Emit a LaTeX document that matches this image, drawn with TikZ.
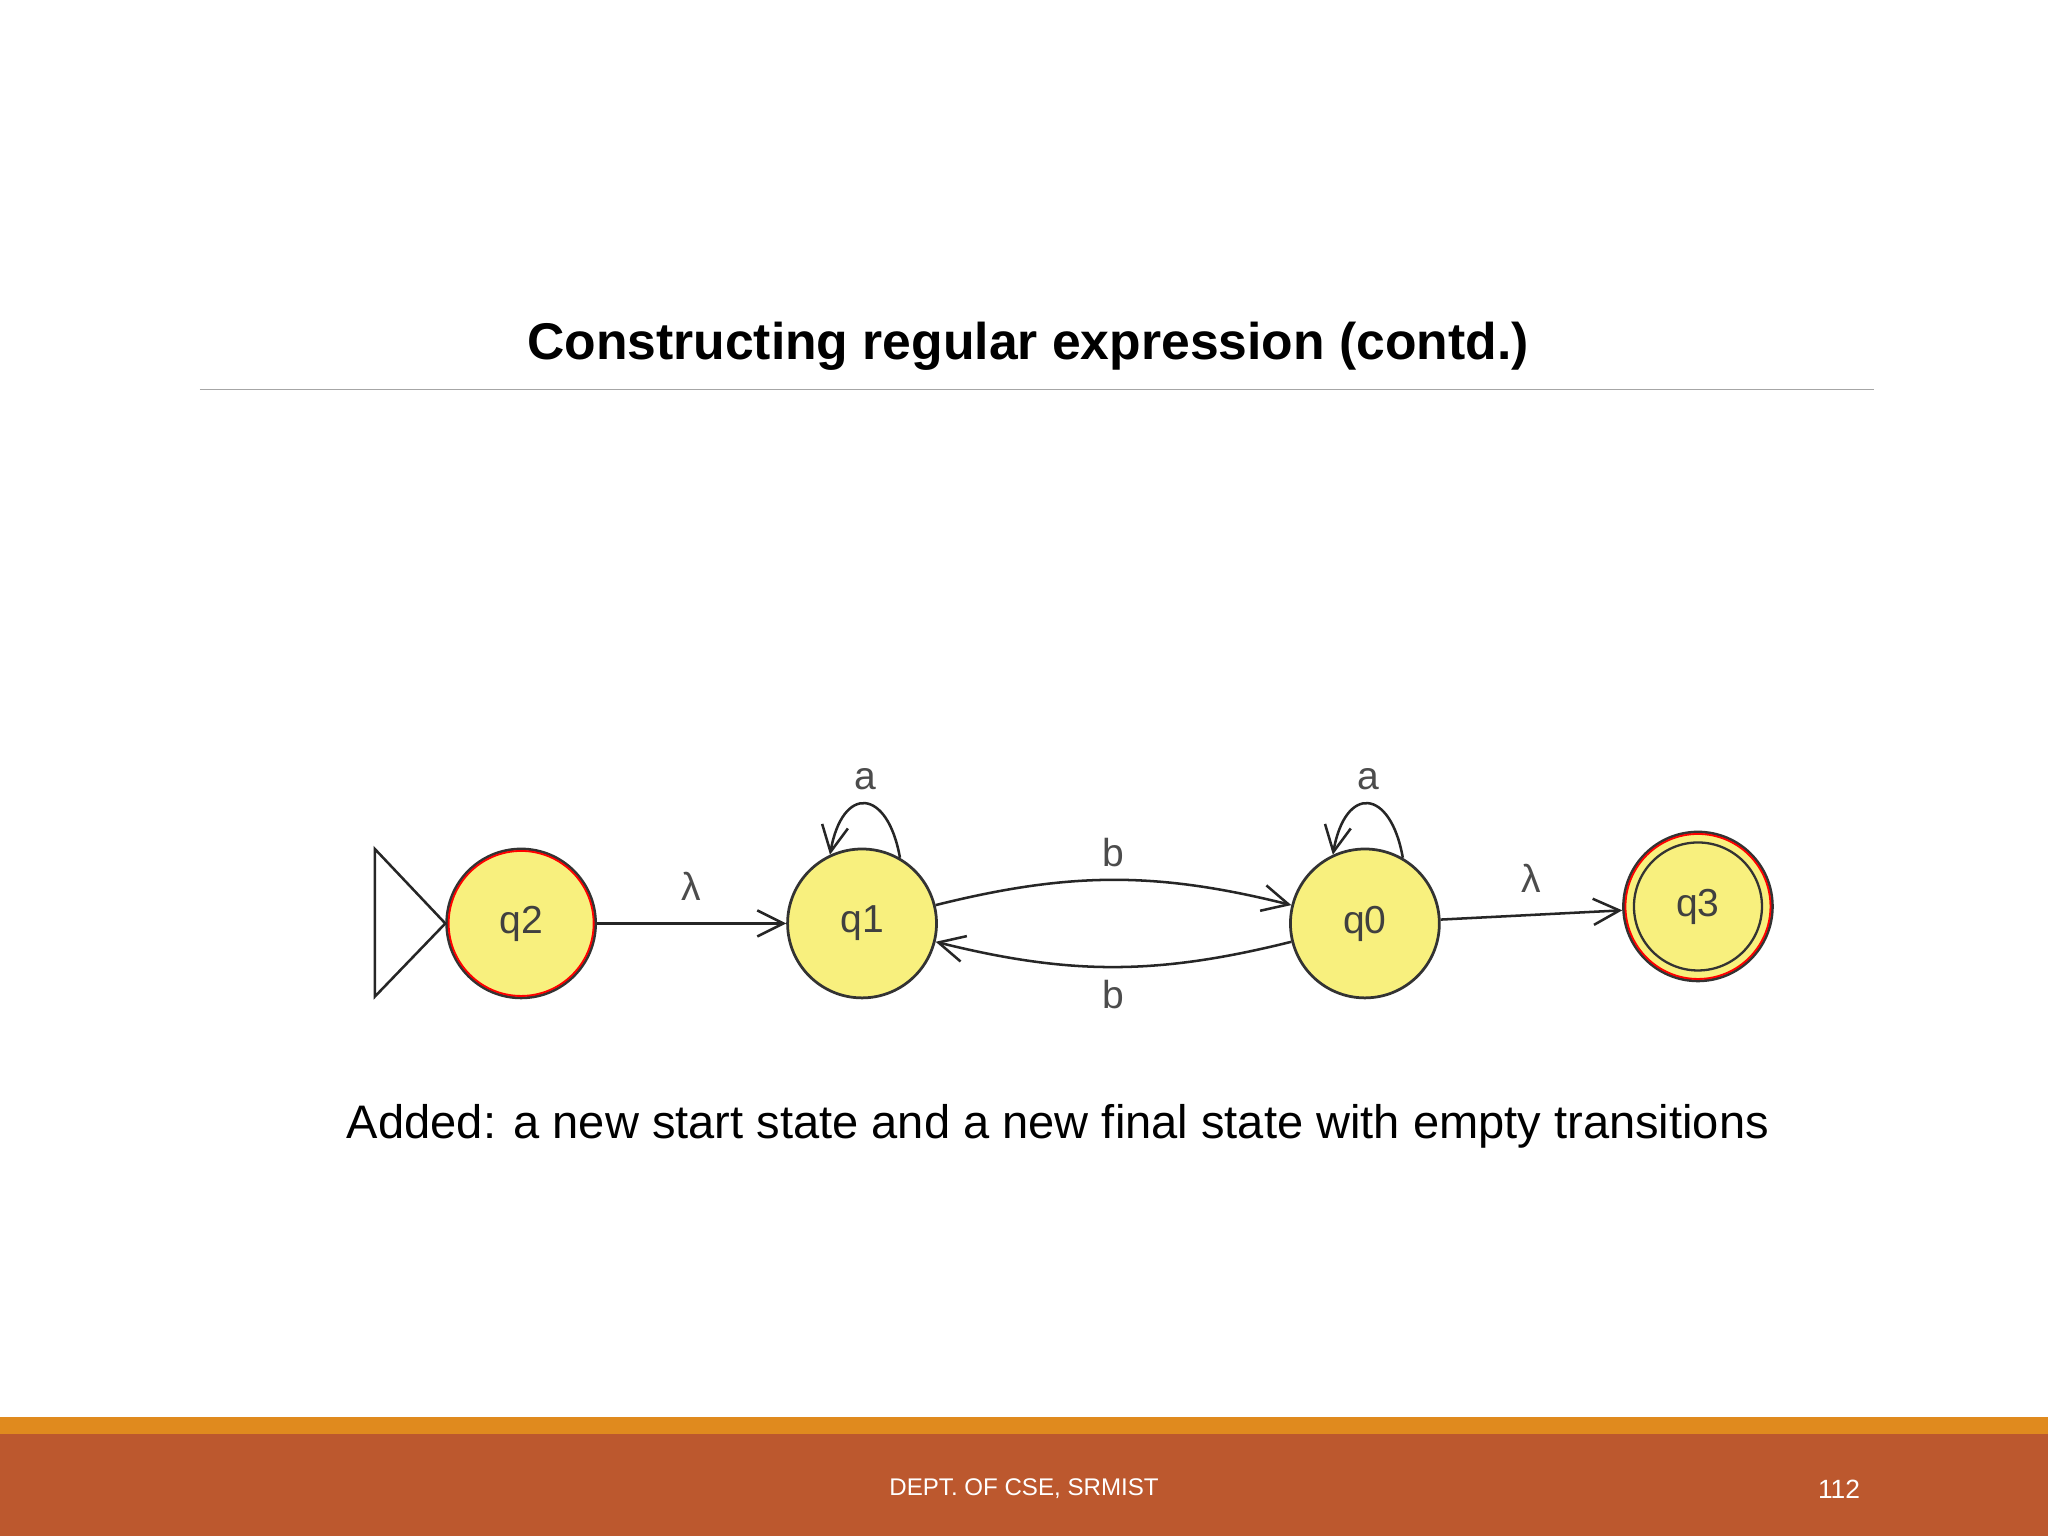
\documentclass[tikz,border=0pt]{standalone}
\usepackage{fontspec}
\setmainfont{Liberation Sans}
\usetikzlibrary{arrows.meta}
\definecolor{stfill}{HTML}{F8F07E}
\definecolor{band}{HTML}{BC582E}
\definecolor{stripe}{HTML}{E08A1E}
\begin{document}
\begin{tikzpicture}[x=0.2mm,y=-0.2mm,
  st/.style={circle,draw=black!80,line width=1.2pt,fill=stfill,minimum size=22.8mm,inner sep=0pt,font=\fontsize{17}{20}\selectfont,text=black!75},
  tr/.style={draw=black!85,line width=1.1pt,-{Straight Barb[length=4mm,width=4mm,line width=1.1pt]}},
  lb/.style={font=\fontsize{17}{20}\selectfont,text=black!70}]
\useasboundingbox (0,0) rectangle (1568,1176);
\fill[white] (0,0) rectangle (1568,1176);
\node[font=\bfseries\fontsize{22.5}{26}\selectfont] (title) at (787,265) {Constructing regular expression (contd.)};
\draw[black!35,line width=0.6pt] (153,298) -- (1435,298);
\node[st] (q2) at (399,707) {q2};
\node[st] (q1) at (660,707) {q1};
\node[st] (q0) at (1045,707) {q0};
\node[st] (q3) at (1300,694) {q3};
\draw[red,line width=0.8pt] (q2) circle (11.1mm);
\draw[red,line width=0.8pt] (q3) circle (11.1mm);
\draw[black!80,line width=1pt] (q3) circle (9.8mm);
\coordinate (t1) at (287,650); \coordinate (t2) at (287,763);
\draw[black!85,line width=1.1pt] (t1) -- (q2.west) -- (t2) -- cycle;
\draw[tr] (q2) -- node[lb,above=6pt,pos=0.5]{λ} (q1);
\draw[tr] (q1) to[bend left=14] node[lb,above=2pt]{b} (q0);
\draw[tr] (q0) to[bend left=14] node[lb,below=2pt]{b} (q1);
\draw[tr] (q0) -- node[lb,above=6pt]{λ} (q3);
\draw[tr] (q1.60) to[out=100,in=80,looseness=2.6] node[lb,above=2pt]{a} (q1.115);
\draw[tr] (q0.60) to[out=100,in=80,looseness=2.6] node[lb,above=2pt]{a} (q0.115);
\node[font=\fontsize{20.5}{24}\selectfont] (added) at (810,862) {Added: a new start state and a new final state with empty transitions};
\fill[stripe] (0,1085) rectangle (1568,1098);
\fill[band] (0,1098) rectangle (1568,1176);
\node[white,font=\fontsize{10.5}{12}\selectfont] (ft) at (784,1140) {DEPT. OF CSE, SRMIST};
\node[white,font=\fontsize{11.5}{13}\selectfont] (pg) at (1408,1140) {112};
\end{tikzpicture}
\end{document}
